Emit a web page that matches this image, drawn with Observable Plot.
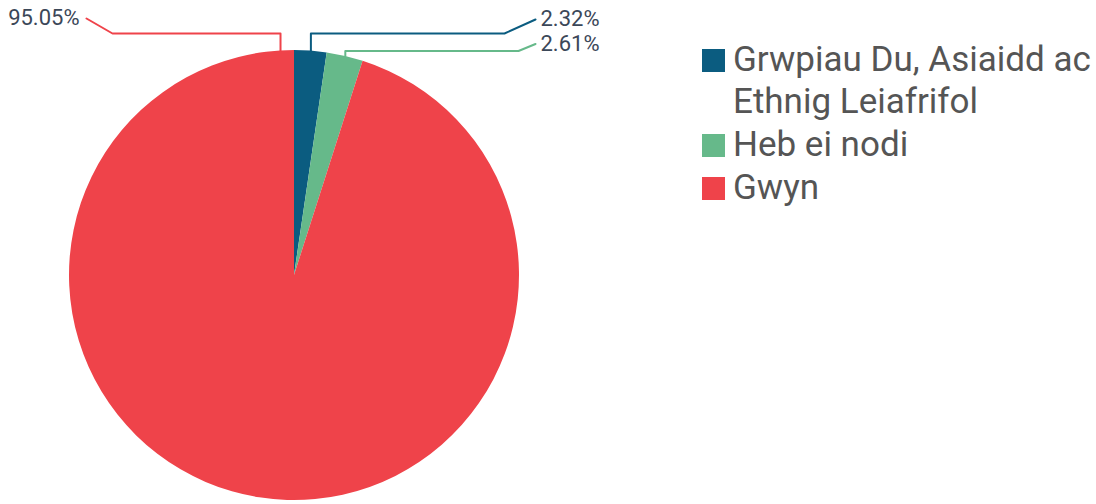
<!DOCTYPE html>
<html><head><meta charset="utf-8">
<script src="https://cdn.jsdelivr.net/npm/d3@7"></script>
<script src="https://cdn.jsdelivr.net/npm/@observablehq/plot@0.6"></script>
<style>
body{margin:0;background:#fff;}
#wrap{position:relative;width:1096px;height:504px;overflow:hidden;background:#fff;}
#chart{position:absolute;left:0;top:0;}
#legend{position:absolute;left:702px;top:39px;font-family:Roboto,sans-serif;font-size:35px;line-height:42px;color:#555;}
.item{display:flex;align-items:flex-start;margin-bottom:1px;}
.sw{width:23px;height:23px;flex:none;margin-top:10px;margin-right:8px;}
.lab{width:366px;}
</style>
</head><body>
<div id="wrap"><div id="chart"></div><div id="legend"></div></div>
<script>
const categories = ["Grwpiau Du, Asiaidd ac Ethnig Leiafrifol", "Heb ei nodi", "Gwyn"];
const values = [2.32, 2.61, 95.05];
const valueLabels = ["2.32%", "2.61%", "95.05%"];
const colors = ["#0b5c80", "#66b98a", "#ef434a"];

const W = 1096, H = 504;
const cx = 294, cy = 275, R = 225;

const data = categories.map((c, i) => ({cat: c, value: values[i], label: valueLabels[i]}));
const arcs = d3.pie().sort(null).value(d => d.value)(data);

// leader layout (positions of elbows / label anchors)
const leaderLayout = [
  {angle: (arcs[0].startAngle + arcs[0].endAngle) / 2, elbowY: 33, kneeX: 504, endX: 535, endY: 19, labelX: 540, labelY: 18, anchor: "start"},
  {angle: (arcs[1].startAngle + arcs[1].endAngle) / 2, elbowY: 50.5, kneeX: 518, endX: 535, endY: 43.5, labelX: 540, labelY: 43.5, anchor: "start"},
  {angle: arcs[2].endAngle - 0.0622, elbowY: 33, kneeX: 112, endX: 86, endY: 18, labelX: 79, labelY: 17.5, anchor: "end"}
];

const leaderPts = [];
const labelRows = [];
data.forEach((d, i) => {
  const L = leaderLayout[i];
  const sx = cx + R * Math.sin(L.angle), sy = cy - R * Math.cos(L.angle);
  leaderPts.push({cat: d.cat, x: sx, y: sy}, {cat: d.cat, x: sx, y: L.elbowY},
                 {cat: d.cat, x: L.kneeX, y: L.elbowY}, {cat: d.cat, x: L.endX, y: L.endY});
  labelRows.push({cat: d.cat, label: d.label, x: L.labelX, y: L.labelY, anchor: L.anchor});
});

function pieMark(index, scales, values, dimensions, context) {
  const g = d3.create("svg:g");
  const X = scales.x(cx), Y = scales.y(cy);
  const r = scales.x(cx + R) - X;
  const arcGen = d3.arc().innerRadius(0).outerRadius(r);
  g.selectAll("path").data(arcs).join("path")
    .attr("transform", `translate(${X},${Y})`)
    .attr("d", arcGen)
    .attr("fill", d => scales.color ? scales.color(d.data.cat) : colors[d.index]);
  return g.node();
}

const chart = Plot.plot({
  width: W, height: H, margin: 0,
  x: {domain: [0, W], range: [0, W], axis: null},
  y: {domain: [0, H], range: [0, H], axis: null},
  color: {domain: categories, range: colors},
  style: {fontFamily: "Roboto, sans-serif", background: "transparent"},
  marks: [
    pieMark,
    Plot.line(leaderPts, {x: "x", y: "y", z: "cat", stroke: "cat", strokeWidth: 2, curve: "linear"}),
    Plot.text(labelRows.filter(d => d.anchor === "start"), {x: "x", y: "y", text: "label", textAnchor: "start", fontSize: 22, fill: "#3b4758"}),
    Plot.text(labelRows.filter(d => d.anchor === "end"), {x: "x", y: "y", text: "label", textAnchor: "end", fontSize: 22, fill: "#3b4758"})
  ]
});
document.getElementById("chart").appendChild(chart);

const legend = d3.select("#legend");
categories.forEach((c, i) => {
  const it = legend.append("div").attr("class", "item");
  it.append("div").attr("class", "sw").style("background", colors[i]);
  it.append("div").attr("class", "lab").text(c);
});
</script>
</body></html>
